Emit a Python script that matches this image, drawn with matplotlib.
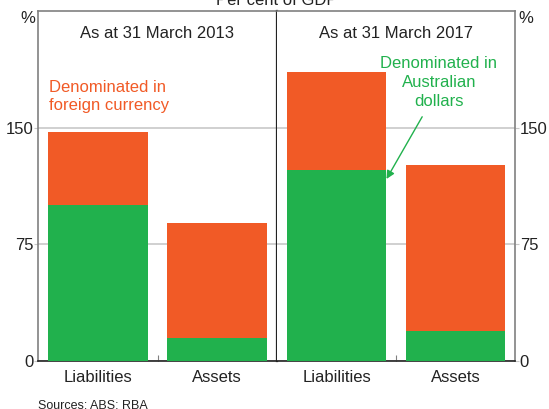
import numpy as np
import matplotlib.pyplot as plt

plt.rcParams['font.family'] = ['Liberation Sans', 'DejaVu Sans']

# data, per cent of GDP
panels = ['As at 31 March 2013', 'As at 31 March 2017']
categories = ['Liabilities', 'Assets']
aud_2013 = [100.5, 15]
total_2013 = [147, 89]
aud_2017 = [123, 19.5]
total_2017 = [185.5, 126]
yticks = [0, 75, 150]

green = '#21B14D'
orange = '#F15A26'
grid_col = '#C8C8C8'
frame_col = '#808080'
text_col = '#222222'
fs = 12

fig = plt.figure(figsize=(5.49, 4.09), dpi=100)

left = 38 / 549
mid = 277 / 549
right = 515 / 549
bottom = 1 - 361 / 409
top = 1 - 11 / 409

ax1 = fig.add_axes([left, bottom, mid - left, top - bottom])
ax2 = fig.add_axes([mid, bottom, right - mid, top - bottom])

data = [(aud_2013, total_2013), (aud_2017, total_2017)]
x = np.arange(len(categories))

for i, (ax, (aud, total)) in enumerate(zip([ax1, ax2], data)):
    foreign = np.array(total) - np.array(aud)
    ax.bar(x, aud, width=0.84, color=green, zorder=3)
    ax.bar(x, foreign, bottom=aud, width=0.84, color=orange, zorder=3)
    ax.set_xlim(-0.5, 1.5)
    ax.set_ylim(0, 225)
    ax.set_yticks(yticks)
    ax.grid(axis='y', color=grid_col, linewidth=1.2, zorder=1)
    ax.set_xticks([0.5])
    ax.set_xticklabels([''])
    ax.tick_params(axis='x', direction='in', length=4, color=frame_col)
    for j, c in enumerate(categories):
        ax.text(j, -6, c, ha='center', va='top', fontsize=fs, color=text_col)
    ax.text(0.5, 0.958, panels[i], ha='center', va='top', fontsize=fs,
            color=text_col, transform=ax.transAxes)
    for s in ax.spines.values():
        s.set_color(frame_col)
        s.set_linewidth(1.2)
    ax.spines['bottom'].set_color(text_col)

ax1.spines['right'].set_color(text_col)
ax1.spines['right'].set_linewidth(1.6)
ax1.spines['right'].set_zorder(5)
ax2.spines['left'].set_visible(False)

ax1.tick_params(axis='y', direction='out', length=3, color=grid_col,
                labelsize=fs, labelcolor=text_col, left=True, right=False, pad=0.5)
ax2.tick_params(axis='y', direction='out', length=3, color=grid_col,
                labelsize=fs, labelcolor=text_col, left=False, labelleft=False,
                right=True, labelright=True, pad=0.5)

fig.text(35 / 549, 1 - 11 / 409, '%', ha='right', va='top', fontsize=fs, color=text_col)
fig.text(518 / 549, 1 - 11 / 409, '%', ha='left', va='top', fontsize=fs, color=text_col)

# annotations
ax1.text(-0.41, 170, 'Denominated in\nforeign currency', ha='left', va='center',
         fontsize=fs, color=orange, linespacing=1.3)
ax2.text(0.86, 179, 'Denominated in\nAustralian\ndollars', ha='center', va='center',
         fontsize=fs, color=green, linespacing=1.3)
ax2.annotate('', xy=(0.42, 117), xytext=(0.72, 157),
             arrowprops=dict(arrowstyle='-|>', color=green, lw=1,
                             shrinkA=0, shrinkB=0, mutation_scale=12))

fig.text(mid, 1 - 5 / 409, 'Per cent of GDP', ha='center', va='baseline',
         fontsize=fs, color=text_col)
fig.text(left, 1 - 400 / 409, 'Sources: ABS; RBA', ha='left', va='top',
         fontsize=9, color=text_col)

plt.savefig('out.png', dpi=100)
